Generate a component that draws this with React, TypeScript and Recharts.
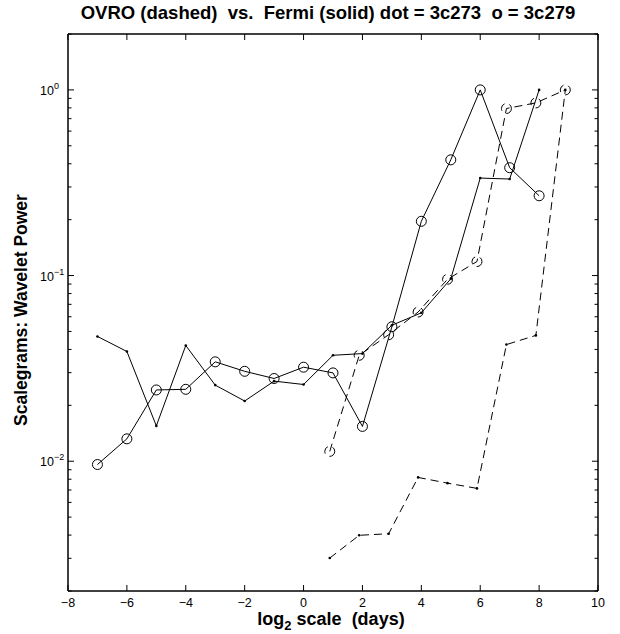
import { LineChart, Line, XAxis, YAxis } from 'recharts'

// wavelet scale (log2 days) and normalised scalegram power
const fermiScales = [-7, -6, -5, -4, -3, -2, -1, 0, 1, 2, 3, 4, 5, 6, 7, 8]
const fermi3c273 = [0.047, 0.039, 0.0155, 0.042, 0.0257, 0.0211, 0.027, 0.0259, 0.0372, 0.038, 0.054, 0.063, 0.096, 0.335, 0.331, 1.0]
const fermi3c279 = [0.0096, 0.0132, 0.0242, 0.0244, 0.0343, 0.0305, 0.0279, 0.0321, 0.0299, 0.0154, 0.053, 0.196, 0.42, 1.0, 0.381, 0.269]

const ovroScales = [0.89, 1.89, 2.89, 3.89, 4.89, 5.89, 6.89, 7.89, 8.89]
const ovro3c273 = [0.00301, 0.00399, 0.00407, 0.00818, 0.00762, 0.00714, 0.0425, 0.0476, 1.0]
const ovro3c279 = [0.0113, 0.0372, 0.048, 0.0636, 0.0955, 0.119, 0.794, 0.851, 1.0]

const xTicks = [-8, -6, -4, -2, 0, 2, 4, 6, 8, 10]
const yTicks = [
  0.002, 0.003, 0.004, 0.005, 0.006, 0.007, 0.008, 0.009,
  0.01, 0.02, 0.03, 0.04, 0.05, 0.06, 0.07, 0.08, 0.09,
  0.1, 0.2, 0.3, 0.4, 0.5, 0.6, 0.7, 0.8, 0.9,
  1, 2,
]

const FONT = '"Liberation Sans", Arial, Helvetica, sans-serif'

const toRows = (xs: number[], ys: number[]) => xs.map((x, i) => ({ x, y: ys[i] }))

const isDecade = (v: number) => {
  const e = Math.log10(v)
  return Math.abs(e - Math.round(e)) < 1e-6
}

const fmt = (v: number) => (v < 0 ? '\u2212' + Math.abs(v) : String(v))

// eslint-disable-next-line @typescript-eslint/no-explicit-any
function BottomTick({ x, y, payload }: any) {
  return (
    <g>
      <line x1={x} x2={x} y1={y} y2={y - 6} stroke="#000" />
      <text x={x} y={y + 16} textAnchor="middle" fontSize={12.5} fontFamily={FONT} fill="#000">
        {fmt(payload.value)}
      </text>
    </g>
  )
}

// eslint-disable-next-line @typescript-eslint/no-explicit-any
function TopTick({ x, y }: any) {
  return <line x1={x} x2={x} y1={y} y2={y + 6} stroke="#000" />
}

// eslint-disable-next-line @typescript-eslint/no-explicit-any
function LeftTick({ x, y, payload }: any) {
  const major = isDecade(payload.value)
  const e = Math.round(Math.log10(payload.value))
  return (
    <g>
      <line x1={x} x2={x + (major ? 6 : 3.5)} y1={y} y2={y} stroke="#000" />
      {major && (
        <text x={x - 28} y={y + 5} fontSize={12.5} fontFamily={FONT} fill="#000">
          10
          <tspan dy={-6} fontSize={9}>{fmt(e)}</tspan>
        </text>
      )}
    </g>
  )
}

// eslint-disable-next-line @typescript-eslint/no-explicit-any
function RightTick({ x, y, payload }: any) {
  const major = isDecade(payload.value)
  return <line x1={x} x2={x - (major ? 6 : 3.5)} y1={y} y2={y} stroke="#000" />
}

const axisLine = { stroke: '#000', strokeWidth: 1.5 }
const circleDot = { r: 5, fill: 'none', stroke: '#000', strokeWidth: 1 }
const smallDot = { r: 1.3, fill: '#000', stroke: 'none' }

export default function App() {
  return (
    <div style={{ position: 'absolute', left: 0, top: 0, width: 620, height: 634, background: '#fff', fontFamily: FONT }}>
      <LineChart width={620} height={634} margin={{ top: 24, right: 12, bottom: 0, left: 8 }}>
        <XAxis
          xAxisId="bottom"
          type="number"
          dataKey="x"
          domain={[-8, 10]}
          ticks={xTicks}
          interval={0}
          allowDataOverflow
          height={43}
          axisLine={axisLine}
          tickLine={false}
          tickSize={0}
          tickMargin={0}
          tick={<BottomTick />}
        />
        <XAxis
          xAxisId="top"
          orientation="top"
          type="number"
          dataKey="x"
          domain={[-8, 10]}
          ticks={xTicks}
          interval={0}
          allowDataOverflow
          height={10}
          axisLine={axisLine}
          tickLine={false}
          tickSize={0}
          tickMargin={0}
          tick={<TopTick />}
        />
        <YAxis
          yAxisId="left"
          type="number"
          scale="log"
          domain={[0.002, 2]}
          ticks={yTicks}
          interval={0}
          allowDataOverflow
          width={60}
          axisLine={axisLine}
          tickLine={false}
          tickSize={0}
          tickMargin={0}
          tick={<LeftTick />}
        />
        <YAxis
          yAxisId="right"
          orientation="right"
          type="number"
          scale="log"
          domain={[0.002, 2]}
          ticks={yTicks}
          interval={0}
          allowDataOverflow
          width={10}
          axisLine={axisLine}
          tickLine={false}
          tickSize={0}
          tickMargin={0}
          tick={<RightTick />}
        />
        <Line
          xAxisId="bottom"
          yAxisId="left"
          data={toRows(fermiScales, fermi3c273)}
          dataKey="y"
          type="linear"
          stroke="#000"
          strokeWidth={1}
          dot={smallDot}
          activeDot={false}
          isAnimationActive={false}
        />
        <Line
          xAxisId="bottom"
          yAxisId="left"
          data={toRows(fermiScales, fermi3c279)}
          dataKey="y"
          type="linear"
          stroke="#000"
          strokeWidth={1}
          dot={circleDot}
          activeDot={false}
          isAnimationActive={false}
        />
        <Line
          xAxisId="bottom"
          yAxisId="left"
          data={toRows(ovroScales, ovro3c273)}
          dataKey="y"
          type="linear"
          stroke="#000"
          strokeWidth={1}
          strokeDasharray="8 5"
          dot={smallDot}
          activeDot={false}
          isAnimationActive={false}
        />
        <Line
          xAxisId="bottom"
          yAxisId="left"
          data={toRows(ovroScales, ovro3c279)}
          dataKey="y"
          type="linear"
          stroke="#000"
          strokeWidth={1}
          strokeDasharray="8 5"
          dot={circleDot}
          activeDot={false}
          isAnimationActive={false}
        />
      </LineChart>

      <div style={{ position: 'absolute', left: 8, width: 640, top: 2, textAlign: 'center', fontSize: 18.5, fontWeight: 'bold', whiteSpace: 'pre', lineHeight: '22px' }}>
        {'OVRO (dashed)  vs.  Fermi (solid) dot = 3c273  o = 3c279'}
      </div>
      <div style={{ position: 'absolute', left: 231, width: 200, top: 610, textAlign: 'center', fontSize: 18, fontWeight: 'bold', whiteSpace: 'pre', lineHeight: '18px' }}>
        log<sub style={{ fontSize: 13, verticalAlign: '-5px', lineHeight: 0 }}>2</sub>{' scale  (days)'}
      </div>
      <div style={{ position: 'absolute', left: 21, top: 310, width: 300, marginLeft: -150, marginTop: -10, textAlign: 'center', fontSize: 17.5, fontWeight: 'bold', lineHeight: '20px', transform: 'rotate(-90deg)' }}>
        Scalegrams: Wavelet Power
      </div>
    </div>
  )
}
